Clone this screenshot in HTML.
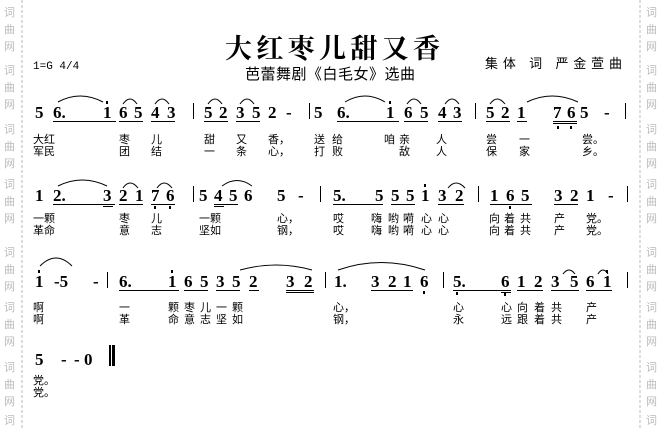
<!DOCTYPE html>
<html><head><meta charset="utf-8"><style>
html,body{margin:0;padding:0;background:#fff;}
svg{display:block}
.n{font-family:"Liberation Serif",serif;font-weight:bold;font-size:17px;fill:#000}
.l{font-family:"Liberation Sans","Noto Sans CJK SC",sans-serif;font-size:11px;fill:#000}
.w{font-family:"Noto Sans CJK SC",sans-serif;font-size:11px;fill:#bbb}
</style></head><body>
<svg width="662" height="430" xmlns="http://www.w3.org/2000/svg">
<rect width="662" height="430" fill="#fff"/>
<line x1="22" y1="0" x2="22" y2="430" stroke="#bbb" stroke-dasharray="3,2"/>
<line x1="640" y1="0" x2="640" y2="430" stroke="#bbb" stroke-dasharray="3,2"/>
<g class="w">
<text x="4" y="16">词</text><text x="4" y="33">曲</text><text x="4" y="50">网</text>
<text x="4" y="74">词</text><text x="4" y="91">曲</text><text x="4" y="108">网</text>
<text x="4" y="133">词</text><text x="4" y="150">曲</text><text x="4" y="167">网</text>
<text x="4" y="188">词</text><text x="4" y="205">曲</text><text x="4" y="222">网</text>
<text x="4" y="256">词</text><text x="4" y="273">曲</text><text x="4" y="290">网</text>
<text x="4" y="311">词</text><text x="4" y="328">曲</text><text x="4" y="345">网</text>
<text x="4" y="371">词</text><text x="4" y="388">曲</text><text x="4" y="405">网</text>
<text x="4" y="424">词</text>
<text x="646" y="16">词</text><text x="646" y="33">曲</text><text x="646" y="50">网</text>
<text x="646" y="74">词</text><text x="646" y="91">曲</text><text x="646" y="108">网</text>
<text x="646" y="133">词</text><text x="646" y="150">曲</text><text x="646" y="167">网</text>
<text x="646" y="188">词</text><text x="646" y="205">曲</text><text x="646" y="222">网</text>
<text x="646" y="256">词</text><text x="646" y="273">曲</text><text x="646" y="290">网</text>
<text x="646" y="311">词</text><text x="646" y="328">曲</text><text x="646" y="345">网</text>
<text x="646" y="371">词</text><text x="646" y="388">曲</text><text x="646" y="405">网</text>
<text x="646" y="424">词</text>
</g>
<text x="225" y="58" style="font-family:'Noto Serif CJK SC',serif;font-weight:bold;font-size:27px" textLength="215">大红枣儿甜又香</text>
<text x="245" y="79" class="l" style="font-size:15px" textLength="170">芭蕾舞剧《白毛女》选曲</text>
<text x="33" y="69" style="font-family:'Liberation Mono',monospace;font-size:11px">1=G 4/4</text>
<text x="485" y="68" class="l" style="font-size:13px" textLength="137">集体 词 严金萱曲</text>

<g class="n">
<text x="35" y="118">5</text><text x="53" y="118">6.</text><text x="103" y="118">1</text><text x="119" y="118">6</text><text x="134" y="118">5</text><text x="151" y="118">4</text><text x="167" y="118">3</text>
<text x="204" y="118">5</text><text x="219" y="118">2</text><text x="236" y="118">3</text><text x="252" y="118">5</text><text x="268" y="118">2</text><text x="286" y="118">-</text>
<text x="314" y="118">5</text><text x="337" y="118">6.</text><text x="386" y="118">1</text><text x="404" y="118">6</text><text x="420" y="118">5</text><text x="438" y="118">4</text><text x="453" y="118">3</text>
<text x="486" y="118">5</text><text x="501" y="118">2</text><text x="517" y="118">1</text><text x="553" y="118">7</text><text x="567" y="118">6</text><text x="580" y="118">5</text><text x="604" y="118">-</text>
<text x="35" y="201">1</text><text x="53" y="201">2.</text><text x="103" y="201">3</text><text x="119" y="201">2</text><text x="135" y="201">1</text><text x="151" y="201">7</text><text x="166" y="201">6</text>
<text x="199" y="201">5</text><text x="214" y="201">4</text><text x="229" y="201">5</text><text x="244" y="201">6</text><text x="277" y="201">5</text><text x="298" y="201">-</text>
<text x="333" y="201">5.</text><text x="375" y="201">5</text><text x="391" y="201">5</text><text x="406" y="201">5</text><text x="421" y="201">1</text><text x="438" y="201">3</text><text x="455" y="201">2</text>
<text x="490" y="201">1</text><text x="506" y="201">6</text><text x="521" y="201">5</text><text x="554" y="201">3</text><text x="570" y="201">2</text><text x="586" y="201">1</text><text x="608" y="201">-</text>
<text x="35" y="287">1</text><text x="54" y="287">-5</text><text x="93" y="287">-</text>
<text x="119" y="287">6.</text><text x="168" y="287">1</text><text x="184" y="287">6</text><text x="200" y="287">5</text><text x="216" y="287">3</text><text x="232" y="287">5</text><text x="249" y="287">2</text><text x="286" y="287">3</text><text x="304" y="287">2</text>
<text x="334" y="287">1.</text><text x="371" y="287">3</text><text x="388" y="287">2</text><text x="403" y="287">1</text><text x="420" y="287">6</text>
<text x="453" y="287">5.</text><text x="501" y="287">6</text><text x="517" y="287">1</text><text x="534" y="287">2</text><text x="551" y="287">3</text><text x="570" y="287">5</text><text x="586" y="287">6</text><text x="603" y="287">1</text>
<text x="35" y="365">5</text><text x="61" y="365">-</text><text x="74" y="365">-</text><text x="84" y="365">0</text>
</g>
<g fill="#000">
<rect x="193" y="103" width="1" height="16"/><rect x="309" y="103" width="1" height="16"/><rect x="475" y="103" width="1" height="16"/><rect x="625" y="103" width="1" height="16"/>
<rect x="193" y="186" width="1" height="16"/><rect x="320" y="186" width="1" height="16"/><rect x="478" y="186" width="1" height="16"/><rect x="627" y="186" width="1" height="16"/>
<rect x="107" y="272" width="1" height="16"/><rect x="325" y="272" width="1" height="16"/><rect x="443" y="272" width="1" height="16"/><rect x="627" y="272" width="1" height="16"/>
<rect x="109" y="345" width="2" height="21"/><rect x="112" y="345" width="3" height="21"/>
<rect x="106" y="101" width="2" height="3"/><rect x="389" y="101" width="2" height="3"/><rect x="424" y="184" width="2" height="3"/>
<rect x="38" y="270" width="2" height="3"/><rect x="171" y="270" width="2" height="3"/><rect x="606" y="270" width="2" height="3"/>
<rect x="557" y="126" width="2" height="3"/><rect x="570" y="126" width="2" height="3"/>
<rect x="154" y="206" width="2" height="3"/><rect x="169" y="206" width="2" height="3"/><rect x="509" y="206" width="2" height="3"/>
<rect x="423" y="291" width="2" height="3"/><rect x="456" y="292" width="2" height="3"/><rect x="504" y="293" width="2" height="3"/>
<rect x="53" y="121" width="63" height="1"/><rect x="119" y="121" width="24" height="1"/><rect x="151" y="121" width="24" height="1"/>
<rect x="204" y="121" width="24" height="1"/><rect x="236" y="121" width="24" height="1"/>
<rect x="337" y="121" width="62" height="1"/><rect x="404" y="121" width="24" height="1"/><rect x="438" y="121" width="24" height="1"/>
<rect x="486" y="121" width="24" height="1"/><rect x="517" y="121" width="10" height="1"/><rect x="553" y="121" width="24" height="1"/><rect x="553" y="123" width="24" height="1"/>
<rect x="53" y="204" width="62" height="1"/><rect x="103" y="206" width="10" height="1"/><rect x="119" y="204" width="24" height="1"/><rect x="151" y="204" width="24" height="1"/>
<rect x="214" y="204" width="24" height="1"/><rect x="214" y="206" width="10" height="1"/>
<rect x="333" y="204" width="50" height="1"/><rect x="391" y="204" width="24" height="1"/><rect x="438" y="204" width="26" height="1"/>
<rect x="490" y="204" width="42" height="1"/><rect x="554" y="204" width="24" height="1"/>
<rect x="119" y="290" width="60" height="1"/><rect x="184" y="290" width="24" height="1"/><rect x="216" y="290" width="24" height="1"/><rect x="249" y="290" width="10" height="1"/><rect x="286" y="290" width="28" height="1"/><rect x="286" y="292" width="28" height="1"/>
<rect x="371" y="290" width="42" height="1"/>
<rect x="453" y="290" width="58" height="1"/><rect x="501" y="292" width="10" height="1"/><rect x="517" y="290" width="26" height="1"/><rect x="551" y="290" width="28" height="1"/><rect x="586" y="290" width="26" height="1"/>
</g>
<g fill="none" stroke="#000" stroke-width="1">
<path d="M58 102 Q80 90 103 102"/><path d="M123 104 Q130 94 137 104"/><path d="M155 104 Q162 94 169 104"/>
<path d="M208 104 Q215 94 222 104"/><path d="M240 104 Q247 94 254 104"/>
<path d="M345 102 Q365 90 385 102"/><path d="M407 104 Q414 94 421 104"/><path d="M445 104 Q452 94 459 104"/>
<path d="M490 104 Q497 94 505 104"/><path d="M527 102 Q552 90 578 102"/>
<path d="M58 186 Q82 174 107 186"/><path d="M123 188 Q130 178 138 188"/><path d="M157 188 Q164 178 172 188"/><path d="M222 186 Q237 175 252 186"/><path d="M448 188 Q456 178 465 188"/>
<path d="M40 266 Q56 250 72 266"/><path d="M240 270 Q276 260 312 270"/><path d="M338 270 Q381 255 425 270"/><path d="M563 274 Q569 266 575 274"/><path d="M598 274 Q603 266 608 274"/>
</g>
<g class="l">
<text x="33" y="143">大红</text><text x="119" y="143">枣</text><text x="151" y="143">儿</text><text x="204" y="143">甜</text><text x="236" y="143">又</text><text x="268" y="143">香，</text><text x="314" y="143">送</text><text x="332" y="143">给</text><text x="384" y="143">咱</text><text x="399" y="143">亲</text><text x="436" y="143">人</text><text x="486" y="143">尝</text><text x="519" y="143">一</text><text x="582" y="143">尝。</text>
<text x="33" y="155">军民</text><text x="119" y="155">团</text><text x="151" y="155">结</text><text x="204" y="155">一</text><text x="236" y="155">条</text><text x="268" y="155">心，</text><text x="314" y="155">打</text><text x="332" y="155">败</text><text x="399" y="155">敌</text><text x="436" y="155">人</text><text x="486" y="155">保</text><text x="519" y="155">家</text><text x="582" y="155">乡。</text>
<text x="33" y="222">一颗</text><text x="119" y="222">枣</text><text x="151" y="222">儿</text><text x="199" y="222">一颗</text><text x="277" y="222">心，</text><text x="333" y="222">哎</text><text x="371" y="222">嗨</text><text x="388" y="222">哟</text><text x="403" y="222">嗬</text><text x="421" y="222">心</text><text x="438" y="222">心</text><text x="489" y="222">向</text><text x="504" y="222">着</text><text x="520" y="222">共</text><text x="554" y="222">产</text><text x="586" y="222">党。</text>
<text x="33" y="234">革命</text><text x="119" y="234">意</text><text x="151" y="234">志</text><text x="199" y="234">坚如</text><text x="277" y="234">钢，</text><text x="333" y="234">哎</text><text x="371" y="234">嗨</text><text x="388" y="234">哟</text><text x="403" y="234">嗬</text><text x="421" y="234">心</text><text x="438" y="234">心</text><text x="489" y="234">向</text><text x="504" y="234">着</text><text x="520" y="234">共</text><text x="554" y="234">产</text><text x="586" y="234">党。</text>
<text x="33" y="311">啊</text><text x="119" y="311">一</text><text x="168" y="311">颗</text><text x="184" y="311">枣</text><text x="200" y="311">儿</text><text x="216" y="311">一</text><text x="232" y="311">颗</text><text x="333" y="311">心，</text><text x="453" y="311">心</text><text x="501" y="311">心</text><text x="517" y="311">向</text><text x="534" y="311">着</text><text x="551" y="311">共</text><text x="586" y="311">产</text>
<text x="33" y="323">啊</text><text x="119" y="323">革</text><text x="168" y="323">命</text><text x="184" y="323">意</text><text x="200" y="323">志</text><text x="216" y="323">坚</text><text x="232" y="323">如</text><text x="333" y="323">钢，</text><text x="453" y="323">永</text><text x="501" y="323">远</text><text x="517" y="323">跟</text><text x="534" y="323">着</text><text x="551" y="323">共</text><text x="586" y="323">产</text>
<text x="33" y="384">党。</text><text x="33" y="396">党。</text>
</g>
</svg>
</body></html>
